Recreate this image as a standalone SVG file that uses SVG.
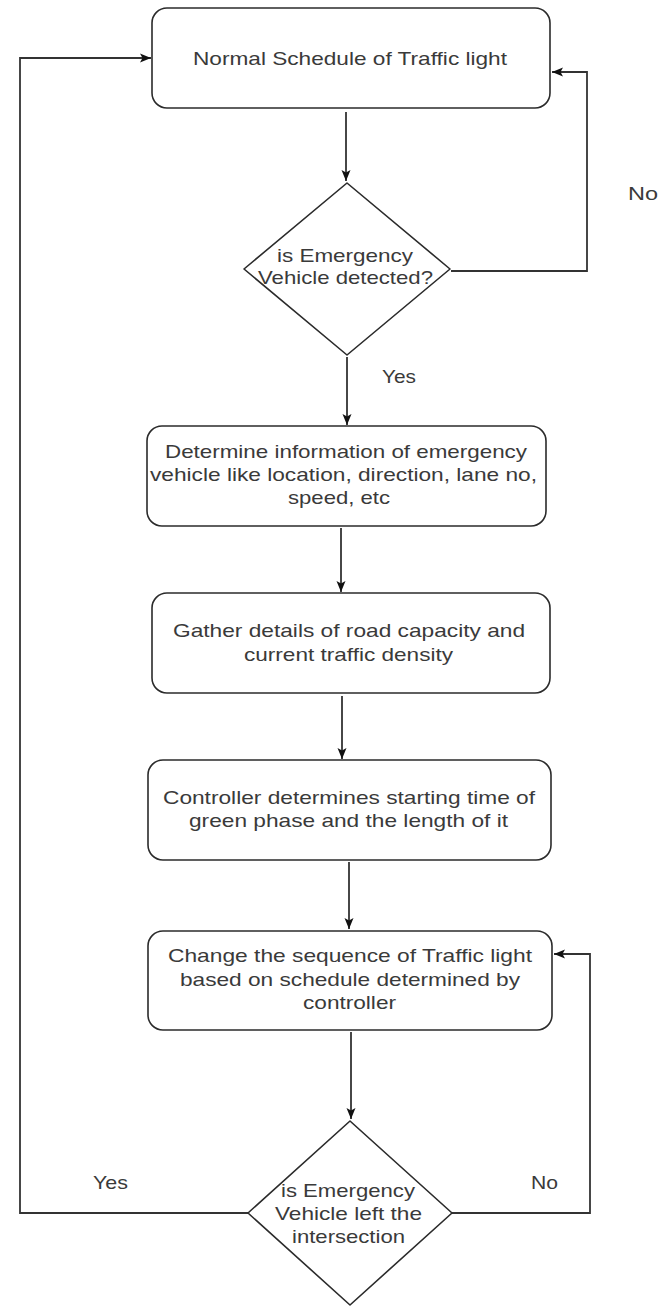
<svg xmlns="http://www.w3.org/2000/svg" width="672" height="1306" viewBox="0 0 672 1306">
<style>
.n{fill:#fff;stroke:#2b2b2b;stroke-width:1.6}
.t{font-family:"Liberation Sans",Arial,sans-serif;font-size:18.5px;fill:#3a3a3a;text-anchor:middle}
.c{fill:none;stroke:#333;stroke-width:1.8}
</style>
<defs>
<marker id="ah" markerUnits="userSpaceOnUse" markerWidth="12" markerHeight="12" viewBox="0 0 12 12" refX="11" refY="6" orient="auto">
<path d="M0,1.5 L11,6 L0,10.5 L2.5,6 Z" fill="#111"/>
</marker>
</defs>
<rect width="672" height="1306" fill="#fff"/>
<g id="connectors">
<path class="c" d="M346,112 V181" marker-end="url(#ah)"/>
<path class="c" d="M451,271 H587 V72 H552" marker-end="url(#ah)"/>
<path class="c" d="M347,357 V425" marker-end="url(#ah)"/>
<path class="c" d="M341,528 V592" marker-end="url(#ah)"/>
<path class="c" d="M342,696 V759" marker-end="url(#ah)"/>
<path class="c" d="M349,862 V929" marker-end="url(#ah)"/>
<path class="c" d="M351,1032 V1119" marker-end="url(#ah)"/>
<path class="c" d="M248,1213 H20 V58 H151" marker-end="url(#ah)"/>
<path class="c" d="M452,1213 H590 V954 H554" marker-end="url(#ah)"/>
<text class="t" x="643" y="200" textLength="30" lengthAdjust="spacingAndGlyphs">No</text>
<text class="t" x="399" y="383" textLength="34" lengthAdjust="spacingAndGlyphs">Yes</text>
<text class="t" x="110.5" y="1189" textLength="35" lengthAdjust="spacingAndGlyphs">Yes</text>
<text class="t" x="544.5" y="1189" textLength="27" lengthAdjust="spacingAndGlyphs">No</text>
</g>
<g id="normal">
<rect class="n" x="152" y="8" width="398" height="100" rx="15"/>
<text class="t" x="350" y="65" textLength="314" lengthAdjust="spacingAndGlyphs">Normal Schedule of Traffic light</text>
</g>
<g id="detected">
<path class="n" stroke-linejoin="round" d="M347,183 L450,269 L347,355 L244,269 Z"/>
<text class="t" x="345" y="262" textLength="136" lengthAdjust="spacingAndGlyphs">is Emergency</text>
<text class="t" x="345.5" y="284" textLength="175" lengthAdjust="spacingAndGlyphs">Vehicle detected?</text>
</g>
<g id="determine">
<rect class="n" x="147" y="426" width="399" height="100" rx="15"/>
<text class="t" x="346" y="458" textLength="362" lengthAdjust="spacingAndGlyphs">Determine information of emergency</text>
<text class="t" x="343.5" y="481" textLength="387" lengthAdjust="spacingAndGlyphs">vehicle like location, direction, lane no,</text>
<text class="t" x="339" y="504" textLength="102" lengthAdjust="spacingAndGlyphs">speed, etc</text>
</g>
<g id="gather">
<rect class="n" x="152" y="593" width="398" height="100" rx="15"/>
<text class="t" x="349" y="637" textLength="352" lengthAdjust="spacingAndGlyphs">Gather details of road capacity and</text>
<text class="t" x="348.5" y="661" textLength="209" lengthAdjust="spacingAndGlyphs">current traffic density</text>
</g>
<g id="controller">
<rect class="n" x="148" y="760" width="403" height="100" rx="15"/>
<text class="t" x="349" y="804" textLength="372" lengthAdjust="spacingAndGlyphs">Controller determines starting time of</text>
<text class="t" x="348.5" y="827" textLength="319" lengthAdjust="spacingAndGlyphs">green phase and the length of it</text>
</g>
<g id="change">
<rect class="n" x="148" y="931" width="404" height="99" rx="15"/>
<text class="t" x="350" y="962" textLength="364" lengthAdjust="spacingAndGlyphs">Change the sequence of Traffic light</text>
<text class="t" x="350" y="986" textLength="340" lengthAdjust="spacingAndGlyphs">based on schedule determined by</text>
<text class="t" x="349.5" y="1009" textLength="93" lengthAdjust="spacingAndGlyphs">controller</text>
</g>
<g id="left">
<path class="n" stroke-linejoin="round" d="M350,1121 L452,1213 L350,1305 L248,1213 Z"/>
<text class="t" x="348" y="1197" textLength="134" lengthAdjust="spacingAndGlyphs">is Emergency</text>
<text class="t" x="348.5" y="1220" textLength="147" lengthAdjust="spacingAndGlyphs">Vehicle left the</text>
<text class="t" x="348.5" y="1243" textLength="113" lengthAdjust="spacingAndGlyphs">intersection</text>
</g>
</svg>
